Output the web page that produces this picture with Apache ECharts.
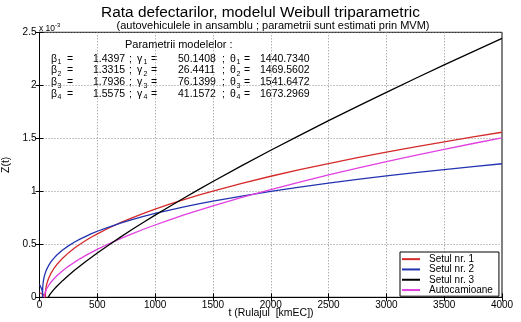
<!DOCTYPE html>
<html><head><meta charset="utf-8">
<script src="https://cdn.jsdelivr.net/npm/echarts@6/dist/echarts.min.js"></script>
<style>html,body{margin:0;padding:0;background:#fff;}#c{width:521px;height:322px;}</style>
</head><body><div id="c"></div>
<script>
// Z(t) values in units of 1e-3
const setul1 = [[0,0.043],[30,0.029],[50.14,0],[52,0.054],[55,0.082],[60,0.112],[70,0.152],[80,0.182],[100,0.228],[125,0.272],[150,0.309],[200,0.369],[250,0.419],[300,0.463],[350,0.501],[400,0.536],[450,0.569],[500,0.599],[600,0.654],[700,0.704],[800,0.750],[900,0.792],[1000,0.832],[1125,0.879],[1250,0.922],[1375,0.963],[1500,1.002],[1750,1.075],[2000,1.142],[2250,1.204],[2500,1.262],[2750,1.317],[3000,1.369],[3250,1.419],[3500,1.467],[3750,1.513],[4000,1.557]];
const setul2 = [[0,0.121],[10,0.103],[20,0.076],[25,0.046],[26.44,0],[27,0.067],[28,0.094],[30,0.123],[35,0.165],[40,0.192],[50,0.230],[60,0.259],[80,0.302],[100,0.336],[125,0.370],[150,0.399],[200,0.446],[250,0.485],[300,0.519],[350,0.549],[400,0.575],[450,0.600],[500,0.623],[600,0.663],[700,0.700],[800,0.732],[900,0.763],[1000,0.791],[1125,0.823],[1250,0.853],[1375,0.881],[1500,0.907],[1750,0.955],[2000,0.999],[2250,1.039],[2500,1.077],[2750,1.112],[3000,1.145],[3250,1.176],[3500,1.205],[3750,1.233],[4000,1.260]];
const setul3 = [[76.14,0],[78,0.006],[80,0.010],[90,0.028],[100,0.043],[125,0.075],[150,0.104],[200,0.157],[250,0.206],[300,0.252],[350,0.295],[400,0.337],[450,0.378],[500,0.418],[600,0.494],[700,0.568],[800,0.639],[900,0.708],[1000,0.775],[1125,0.857],[1250,0.937],[1375,1.016],[1500,1.092],[1750,1.242],[2000,1.387],[2250,1.528],[2500,1.666],[2750,1.801],[3000,1.933],[3250,2.064],[3500,2.192],[3750,2.318],[4000,2.442]];
const autocamioane = [[41.16,0],[42,0.014],[45,0.031],[50,0.050],[60,0.076],[80,0.114],[100,0.144],[125,0.175],[150,0.203],[200,0.251],[250,0.292],[300,0.329],[350,0.363],[400,0.395],[450,0.424],[500,0.452],[600,0.505],[700,0.554],[800,0.599],[900,0.642],[1000,0.682],[1125,0.731],[1250,0.777],[1375,0.820],[1500,0.862],[1750,0.942],[2000,1.016],[2250,1.087],[2500,1.154],[2750,1.218],[3000,1.279],[3250,1.338],[3500,1.395],[3750,1.451],[4000,1.504]];
const seriesNames = ['Setul nr. 1','Setul nr. 2','Setul nr. 3','Autocamioane'];
const seriesColors = ['#d42a2a','#2233b0','#000000','#e040e0'];
const xTicks = [0,500,1000,1500,2000,2500,3000,3500,4000];
const yTicks = [0,0.5,1,1.5,2,2.5];
const paramLetters = ['β','γ','θ'];
const paramIndex = ['1','2','3','4'];
const paramBeta = ['1.4397','1.3315','1.7936','1.5575'];
const paramGamma = ['50.1408','26.4411','76.1399','41.1572'];
const paramTheta = ['1440.7340','1469.5602','1541.6472','1673.2969'];
const titleText = 'Rata defectarilor, modelul Weibull triparametric';
const subtitleText = '(autovehiculele in ansamblu ; parametrii sunt estimati prin MVM)';
const xAxisName = 't (Rulajul  [kmEC])';

const FONT = 'Liberation Sans, Arial, sans-serif';
const chart = echarts.init(document.getElementById('c'), null, {renderer:'canvas'});
const gridLine = {show:true, lineStyle:{color:'#8a8a8a', type:[1,2], width:1}};
const graphics = [];
function txt(x, y, s, size, align){
  graphics.push({type:'text', x:x, y:y, silent:true,
    style:{text:s, font:size+'px '+FONT, fill:'#000', align:align||'left', verticalAlign:'middle'}});
}
txt(260.5, 13, titleText, 15.4, 'center');
txt(273, 25.5, subtitleText, 11, 'center');
txt(39, 29, 'x 10', 8.5);
txt(55, 25, '-3', 6);
txt(125, 45, 'Parametrii modelelor :', 11);
txt(271, 313.5, xAxisName, 10.5, 'center');
const rowY = [59, 70.6, 82.2, 93.8];
const letterX = [51, 137, 230];
const eqX = [67, 151, 244];
const semiX = [129, 222];
rowY.forEach((y,i)=>{
  const vals = [paramBeta[i], paramGamma[i], paramTheta[i]];
  const valX = [93, 178, 260];
  for (let k=0;k<3;k++){
    txt(letterX[k], y, paramLetters[k], 10.5);
    txt(letterX[k]+6.5, y+3.5, paramIndex[i], 7);
    txt(eqX[k], y, '=', 10.5);
    txt(valX[k], y, vals[k], 10.5);
    if (k<2) txt(semiX[k], y, ';', 10.5);
  }
});

const dataSets = [setul1, setul2, setul3, autocamioane];
chart.setOption({
  animation:false,
  backgroundColor:'#fff',
  textStyle:{fontFamily:FONT},
  grid:{left:39.5, right:19, top:32.3, bottom:24.7, outerBoundsMode:'none', containLabel:false,
        show:true, borderColor:'#000', borderWidth:1, backgroundColor:'#fff'},
  xAxis:[{
    type:'value', min:0, max:4000, interval:500,
    axisLine:{show:true, lineStyle:{color:'#000'}},
    axisTick:{show:true, inside:true, length:4, lineStyle:{color:'#000'}},
    axisLabel:{fontSize:10, color:'#000', margin:3, formatter:v=>xTicks.includes(v)?String(v):''},
    splitLine:gridLine
  },{
    type:'value', min:0, max:4000, interval:500, position:'top',
    axisLine:{show:true, lineStyle:{color:'#000'}},
    axisTick:{show:true, inside:true, length:4, lineStyle:{color:'#000'}},
    axisLabel:{show:false}, splitLine:{show:false}
  }],
  yAxis:[{
    type:'value', min:0, max:2.5, interval:0.5,
    name:'Z(t)', nameLocation:'middle', nameGap:25, nameRotate:90,
    nameTextStyle:{fontSize:10.5, color:'#000'},
    axisLine:{show:true, lineStyle:{color:'#000'}},
    axisTick:{show:true, inside:true, length:4, lineStyle:{color:'#000'}},
    axisLabel:{fontSize:10, color:'#000', margin:3, formatter:v=>yTicks.includes(v)?String(v):''},
    splitLine:gridLine
  },{
    type:'value', min:0, max:2.5, interval:0.5, position:'right',
    axisLine:{show:true, lineStyle:{color:'#000'}},
    axisTick:{show:true, inside:true, length:4, lineStyle:{color:'#000'}},
    axisLabel:{show:false}, splitLine:{show:false}
  }],
  legend:{
    orient:'vertical', left:400, top:252, width:103,
    backgroundColor:'#fff', borderColor:'#000', borderWidth:1,
    padding:[2,6,1,2], itemGap:0, itemWidth:18, itemHeight:2, icon:'rect',
    textStyle:{fontSize:10, color:'#000', lineHeight:10.3, padding:[0,0,0,4]},
    data:seriesNames
  },
  series: dataSets.map((d,i)=>({
    name:seriesNames[i], type:'line', data:d, showSymbol:false, symbol:'none',
    smooth:false,
    clip:true, lineStyle:{color:seriesColors[i], width:1.3}, itemStyle:{color:seriesColors[i]},
    z: i===2?3:2
  })),
  graphic: graphics
});
</script></body></html>
